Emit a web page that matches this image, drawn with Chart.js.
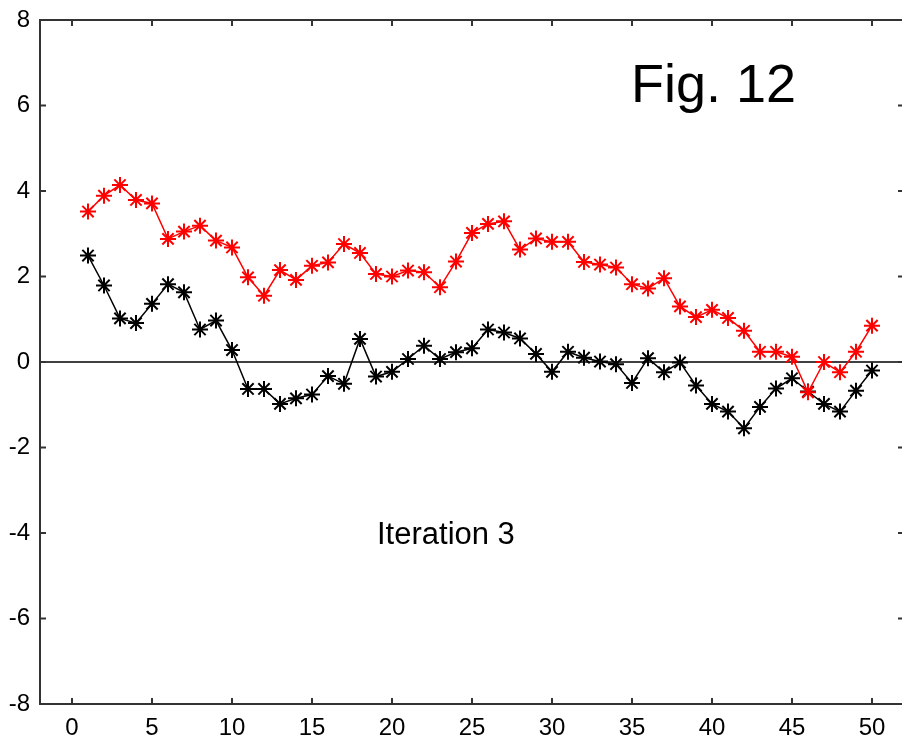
<!DOCTYPE html>
<html>
<head>
<meta charset="utf-8">
<script src="https://cdn.jsdelivr.net/npm/chart.js@4/dist/chart.umd.min.js"></script>
<style>
    html, body { margin: 0; padding: 0; background: #fff; overflow: hidden; }
    #chart { display: block; }
</style>
</head>
<body>
<canvas id="chart" width="904" height="744" style="width:904px;height:744px"></canvas>
<script>
let steps = [];
for (let i = 1; i <= 50; i++) steps.push(i);

let redValues = [3.52, 3.89, 4.14, 3.79, 3.71, 2.88, 3.05, 3.19, 2.84, 2.68,
    1.98, 1.55, 2.15, 1.92, 2.25, 2.33, 2.76, 2.55, 2.06, 2.00,
    2.14, 2.10, 1.75, 2.35, 3.02, 3.23, 3.29, 2.63, 2.89, 2.81,
    2.81, 2.34, 2.28, 2.21, 1.82, 1.72, 1.96, 1.30, 1.05, 1.22,
    1.03, 0.73, 0.24, 0.24, 0.12, -0.71, 0.00, -0.24, 0.24, 0.85];

let blackValues = [2.49, 1.79, 1.02, 0.91, 1.36, 1.82, 1.63, 0.76, 0.97, 0.28,
    -0.63, -0.63, -0.98, -0.85, -0.76, -0.33, -0.51, 0.54, -0.34, -0.23,
    0.07, 0.38, 0.07, 0.23, 0.32, 0.76, 0.69, 0.55, 0.19, -0.23,
    0.24, 0.10, 0.01, -0.05, -0.49, 0.09, -0.24, -0.01, -0.55, -0.98,
    -1.16, -1.55, -1.05, -0.62, -0.38, -0.69, -0.98, -1.16, -0.67, -0.20];

let xTicks = [0, 5, 10, 15, 20, 25, 30, 35, 40, 45, 50];
let yTicks = [-8, -6, -4, -2, 0, 2, 4, 6, 8];

let toPoints = values => values.map((v, i) => ({x: steps[i], y: v}));

// box around the plot, inward ticks on every side, zero line and the captions
let framePlugin = {
    id: 'frame',
    beforeDatasetsDraw: chart => {
        let ctx = chart.ctx;
        let area = chart.chartArea;
        let y0 = chart.scales.y.getPixelForValue(0);
        ctx.save();
        ctx.strokeStyle = '#000';
        ctx.lineWidth = 1.5;
        ctx.beginPath();
        ctx.moveTo(area.left, y0);
        ctx.lineTo(area.right, y0);
        ctx.stroke();
        ctx.restore();
    },
    afterDraw: chart => {
        let ctx = chart.ctx;
        let area = chart.chartArea;
        let xs = chart.scales.x;
        let ys = chart.scales.y;
        let tick = 6;

        ctx.save();
        ctx.strokeStyle = '#333';
        ctx.lineWidth = 2;
        ctx.strokeRect(area.left, area.top, area.right - area.left, area.bottom - area.top);

        ctx.beginPath();
        xTicks.forEach(v => {
            let px = xs.getPixelForValue(v);
            ctx.moveTo(px, area.bottom);
            ctx.lineTo(px, area.bottom - tick);
            ctx.moveTo(px, area.top);
            ctx.lineTo(px, area.top + tick);
        });
        yTicks.forEach(v => {
            let py = ys.getPixelForValue(v);
            ctx.moveTo(area.left, py);
            ctx.lineTo(area.left + tick, py);
            ctx.moveTo(area.right, py);
            ctx.lineTo(area.right - tick, py);
        });
        ctx.stroke();

        ctx.fillStyle = '#000';
        ctx.textBaseline = 'alphabetic';
        ctx.textAlign = 'left';
        ctx.font = '54px "Liberation Sans", Arial, sans-serif';
        ctx.fillText('Fig. 12', 631, 102);
        ctx.font = '31px "Liberation Sans", Arial, sans-serif';
        ctx.fillText('Iteration 3', 377, 544);
        ctx.restore();
    }
};

let tickFont = {family: '"Liberation Sans", Arial, sans-serif', size: 24};

let ctx = document.getElementById('chart').getContext('2d');
new Chart(ctx, {
    type: 'line',
    data: {
        datasets: [
            {
                label: 'red',
                data: toPoints(redValues),
                borderColor: '#ff0000',
                backgroundColor: '#ff0000',
                borderWidth: 1.5,
                pointStyle: 'star',
                pointRadius: 8,
                pointBorderWidth: 2,
                tension: 0
            },
            {
                label: 'black',
                data: toPoints(blackValues),
                borderColor: '#000',
                backgroundColor: '#000',
                borderWidth: 1.5,
                pointStyle: 'star',
                pointRadius: 8,
                pointBorderWidth: 2,
                tension: 0
            }
        ]
    },
    options: {
        responsive: false,
        animation: false,
        layout: {
            autoPadding: false,
            padding: {top: 20, right: 0, left: 0, bottom: 0}
        },
        plugins: {
            legend: {display: false},
            tooltip: {enabled: false}
        },
        scales: {
            x: {
                type: 'linear',
                min: -2,
                max: 52,
                afterBuildTicks: scale => {
                    scale.ticks = xTicks.map(v => ({value: v}));
                },
                afterFit: scale => {
                    scale.height = 40;
                    scale.paddingLeft = 0;
                    scale.paddingRight = 0;
                },
                grid: {display: false, drawTicks: false},
                border: {display: false},
                ticks: {
                    color: '#000',
                    padding: 10,
                    maxRotation: 0,
                    autoSkip: false,
                    font: tickFont
                }
            },
            y: {
                min: -8,
                max: 8,
                afterBuildTicks: scale => {
                    scale.ticks = yTicks.map(v => ({value: v}));
                },
                afterFit: scale => {
                    scale.width = 40;
                    scale.paddingTop = 0;
                    scale.paddingBottom = 0;
                },
                grid: {display: false, drawTicks: false},
                border: {display: false},
                ticks: {
                    color: '#000',
                    padding: 10,
                    autoSkip: false,
                    font: tickFont
                }
            }
        }
    },
    plugins: [framePlugin]
});
</script>
</body>
</html>
